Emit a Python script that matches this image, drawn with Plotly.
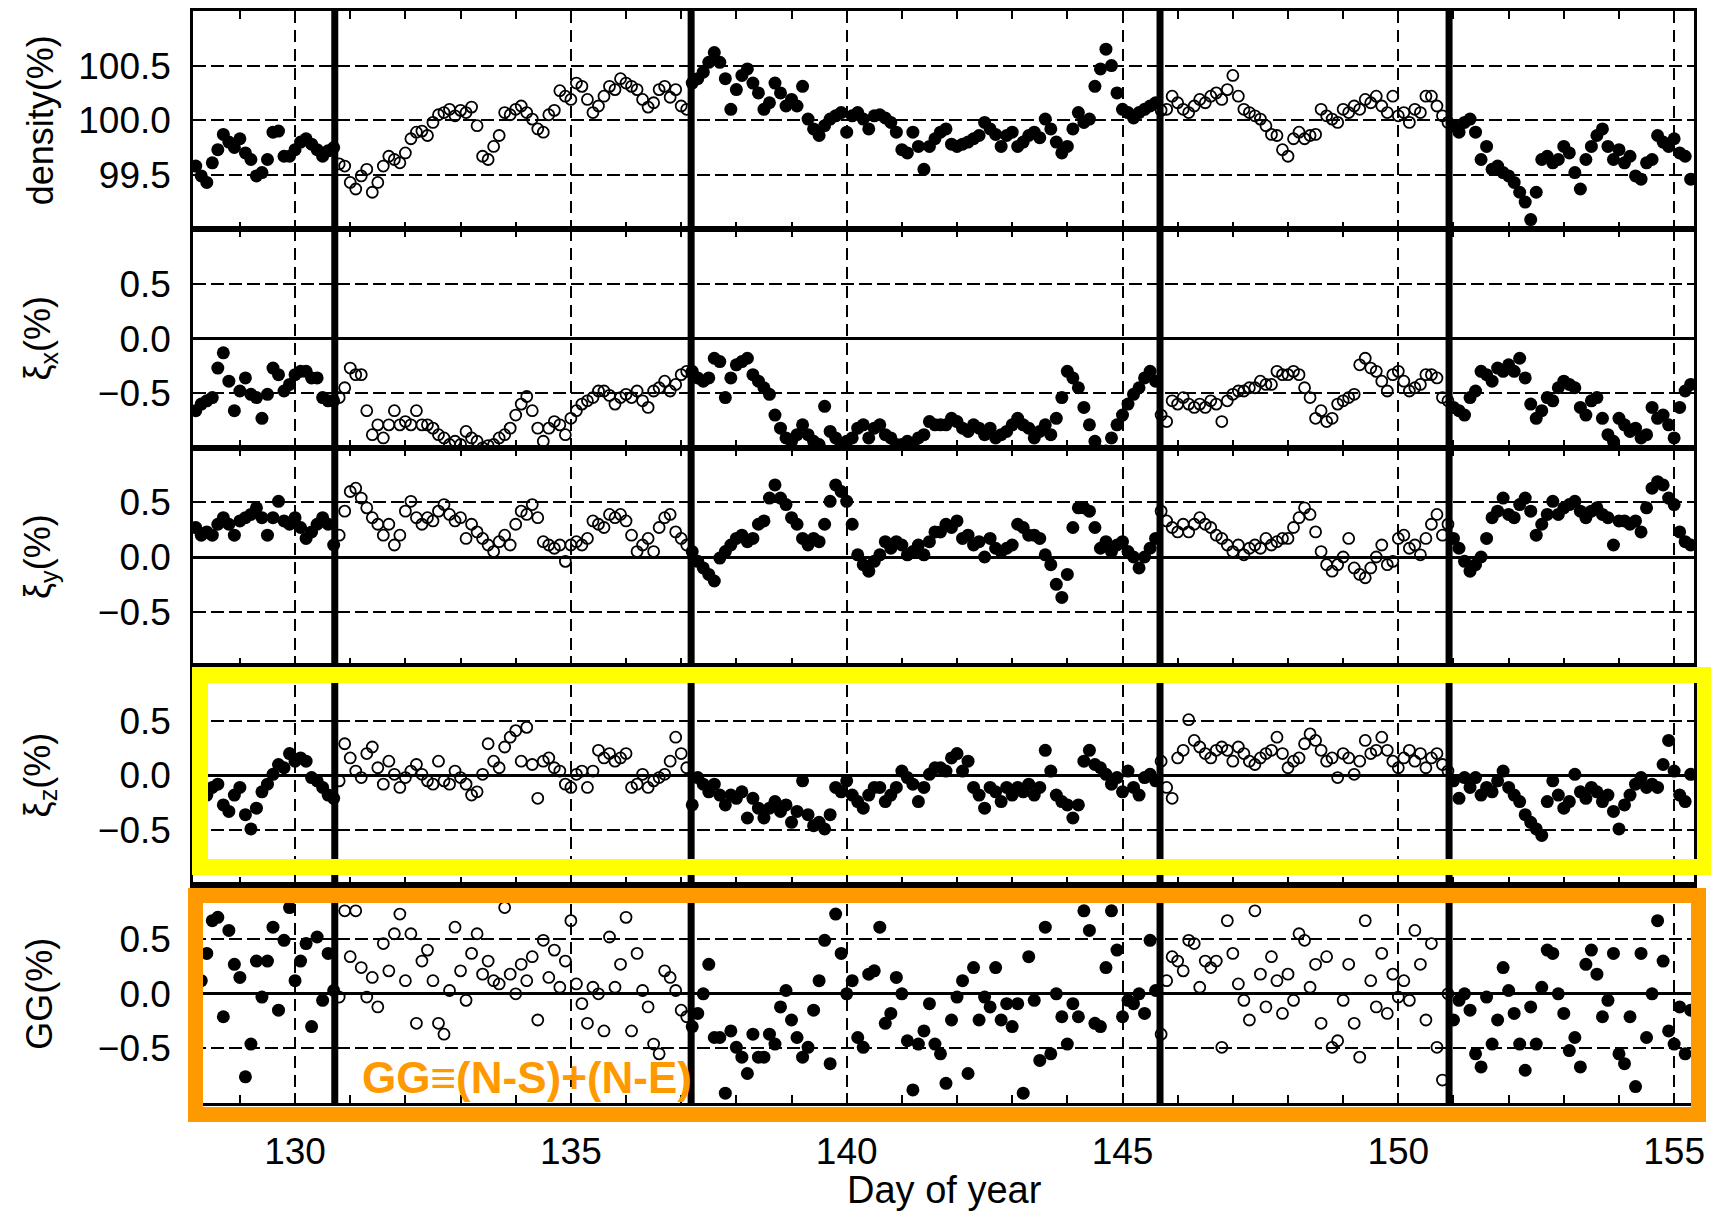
import numpy as np
import plotly.graph_objects as go

# ---------------- data ----------------
day_start = 128.2   # first sample (day of year)
day_step = 0.1      # sampling interval (day)

density = [
    99.58, 99.49, 99.43, 99.61, 99.73, 99.87, 99.80, 99.75,                        # 128.2-128.9
    99.83, 99.70, 99.64, 99.49, 99.52, 99.64, 99.89, 99.90, 99.67, 99.67,          # 129
    99.73, 99.80, 99.83, 99.78, 99.73, 99.67, 99.72, 99.75, 99.60, 99.58,          # 130
    99.43, 99.37, 99.49, 99.55, 99.34, 99.43, 99.58, 99.67, 99.64, 99.61,          # 131
    99.70, 99.83, 99.89, 99.90, 99.86, 99.98, 100.05, 100.07, 100.10, 100.04,      # 132
    100.09, 100.07, 100.12, 99.95, 99.67, 99.64, 99.76, 99.86, 100.07, 100.05,     # 133
    100.10, 100.13, 100.07, 100.01, 99.92, 99.89, 100.05, 100.09, 100.27, 100.22,  # 134
    100.19, 100.34, 100.31, 100.19, 100.07, 100.13, 100.22, 100.31, 100.28, 100.38,  # 135
    100.34, 100.31, 100.28, 100.19, 100.12, 100.16, 100.28, 100.31, 100.21, 100.28,  # 136
    100.13, 100.10, 100.34, 100.38, 100.44, 100.53, 100.62, 100.53, 100.38, 100.10,  # 137
    100.28, 100.41, 100.47, 100.34, 100.25, 100.10, 100.16, 100.34, 100.25, 100.13,  # 138
    100.19, 100.13, 100.31, 100.01, 99.92, 99.86, 99.95, 100.01, 100.04, 100.07,   # 139
    99.89, 100.04, 100.07, 100.01, 99.92, 100.04, 100.05, 100.02, 99.98, 99.89,    # 140
    99.73, 99.70, 99.89, 99.76, 99.55, 99.76, 99.83, 99.89, 99.92, 99.78,          # 141
    99.76, 99.78, 99.80, 99.83, 99.86, 99.98, 99.92, 99.87, 99.76, 99.86,          # 142
    99.89, 99.76, 99.80, 99.86, 99.89, 99.84, 100.01, 99.92, 99.80, 99.70,         # 143
    99.76, 99.92, 100.07, 99.98, 100.01, 100.31, 100.47, 100.65, 100.50, 100.25,   # 144
    100.10, 100.07, 100.02, 100.07, 100.10, 100.13, 100.16, 100.09, 100.10, 100.22,  # 145
    100.16, 100.10, 100.07, 100.13, 100.19, 100.16, 100.22, 100.25, 100.19, 100.28,  # 146
    100.41, 100.22, 100.10, 100.07, 100.04, 100.01, 99.95, 99.87, 99.86, 99.73,    # 147
    99.67, 99.83, 99.89, 99.83, 99.86, 99.87, 100.10, 100.04, 100.01, 99.98,       # 148
    100.10, 100.07, 100.13, 100.10, 100.19, 100.16, 100.22, 100.13, 100.07, 100.22,  # 149
    100.04, 100.07, 99.98, 100.10, 100.07, 100.22, 100.22, 100.13, 100.04, 99.98,  # 150
    99.95, 99.89, 99.98, 100.01, 99.89, 99.64, 99.76, 99.55, 99.58, 99.52,         # 151
    99.49, 99.43, 99.34, 99.25, 99.09, 99.34, 99.64, 99.67, 99.61, 99.64,          # 152
    99.76, 99.70, 99.52, 99.37, 99.64, 99.76, 99.86, 99.92, 99.76, 99.64,          # 153
    99.73, 99.61, 99.67, 99.49, 99.46, 99.61, 99.64, 99.86, 99.80, 99.76,          # 154
    99.83, 99.70, 99.67, 99.46,                                                    # 155.0-155.3
]

xi_x = [
    -0.66, -0.60, -0.57, -0.54, -0.27, -0.13, -0.39, -0.66,
    -0.48, -0.36, -0.51, -0.54, -0.73, -0.51, -0.27, -0.33, -0.48, -0.42,
    -0.33, -0.30, -0.30, -0.36, -0.36, -0.54, -0.57, -0.57, -0.54, -0.45,
    -0.27, -0.33, -0.33, -0.66, -0.88, -0.79, -0.91, -0.79, -0.66, -0.79,
    -0.76, -0.79, -0.66, -0.79, -0.79, -0.82, -0.88, -0.91, -0.97, -0.94,
    -0.97, -0.85, -0.91, -0.94, -1.00, -0.98, -0.97, -0.91, -0.88, -0.82,
    -0.70, -0.60, -0.53, -0.66, -0.82, -0.94, -0.82, -0.76, -0.79, -0.88,
    -0.73, -0.66, -0.60, -0.57, -0.54, -0.48, -0.48, -0.52, -0.60, -0.54,
    -0.51, -0.54, -0.48, -0.57, -0.63, -0.48, -0.45, -0.39, -0.48, -0.42,
    -0.33, -0.30, -0.30, -0.36, -0.39, -0.36, -0.18, -0.21, -0.54, -0.36,
    -0.24, -0.21, -0.18, -0.33, -0.39, -0.45, -0.51, -0.70, -0.82, -0.91,
    -0.94, -0.88, -0.79, -0.88, -0.94, -0.97, -0.62, -0.85, -0.91, -0.97,
    -0.94, -0.91, -0.82, -0.79, -0.91, -0.82, -0.79, -0.88, -0.91, -0.97,
    -0.97, -0.94, -0.97, -0.91, -0.88, -0.76, -0.79, -0.79, -0.79, -0.73,
    -0.76, -0.82, -0.85, -0.79, -0.82, -0.88, -0.82, -0.91, -0.88, -0.85,
    -0.79, -0.73, -0.79, -0.82, -0.91, -0.85, -0.79, -0.88, -0.73, -0.54,
    -0.30, -0.36, -0.45, -0.63, -0.79, -0.94, -1.03, -1.03, -0.91, -0.79,
    -0.70, -0.60, -0.51, -0.45, -0.36, -0.30, -0.39, -0.70, -0.76, -0.57,
    -0.60, -0.54, -0.60, -0.63, -0.60, -0.63, -0.57, -0.60, -0.76, -0.57,
    -0.51, -0.48, -0.48, -0.45, -0.45, -0.39, -0.42, -0.42, -0.30, -0.33,
    -0.33, -0.30, -0.33, -0.45, -0.54, -0.73, -0.66, -0.76, -0.73, -0.60,
    -0.57, -0.54, -0.51, -0.24, -0.18, -0.27, -0.30, -0.39, -0.48, -0.33,
    -0.30, -0.39, -0.48, -0.45, -0.42, -0.33, -0.33, -0.36, -0.54, -0.57,
    -0.63, -0.66, -0.70, -0.54, -0.48, -0.30, -0.33, -0.39, -0.27, -0.30,
    -0.24, -0.30, -0.18, -0.36, -0.60, -0.73, -0.66, -0.54, -0.57, -0.45,
    -0.39, -0.42, -0.45, -0.63, -0.70, -0.57, -0.54, -0.73, -0.88, -0.94,
    -0.73, -0.79, -0.85, -0.82, -0.91, -0.88, -0.63, -0.73, -0.70, -0.79,
    -0.91, -0.63, -0.48, -0.42,
]

xi_y = [
    0.27, 0.20, 0.23, 0.20, 0.30, 0.36, 0.30, 0.20,
    0.33, 0.36, 0.39, 0.45, 0.36, 0.20, 0.36, 0.51, 0.33, 0.30,
    0.36, 0.27, 0.17, 0.23, 0.30, 0.36, 0.30, 0.11, 0.20, 0.42,
    0.60, 0.63, 0.54, 0.45, 0.36, 0.30, 0.20, 0.30, 0.11, 0.20,
    0.42, 0.51, 0.36, 0.30, 0.36, 0.33, 0.42, 0.48, 0.39, 0.33,
    0.36, 0.17, 0.30, 0.23, 0.17, 0.11, 0.05, 0.14, 0.20, 0.11,
    0.30, 0.42, 0.39, 0.48, 0.36, 0.14, 0.11, 0.08, 0.11, -0.04,
    0.11, 0.14, 0.11, 0.17, 0.33, 0.30, 0.27, 0.39, 0.36, 0.39,
    0.33, 0.20, 0.05, 0.11, 0.17, 0.05, 0.27, 0.36, 0.39, 0.23,
    0.17, 0.11, 0.05, -0.04, -0.10, -0.16, -0.22, -0.01, 0.05, 0.11,
    0.17, 0.20, 0.14, 0.17, 0.30, 0.33, 0.54, 0.66, 0.54, 0.48,
    0.36, 0.30, 0.17, 0.11, 0.17, 0.14, 0.30, 0.51, 0.66, 0.60,
    0.51, 0.30, 0.02, -0.07, -0.13, -0.04, 0.02, 0.14, 0.08, 0.14,
    0.11, 0.02, 0.05, 0.11, 0.02, 0.14, 0.23, 0.23, 0.30, 0.27,
    0.33, 0.17, 0.20, 0.11, 0.14, 0.00, 0.17, 0.08, 0.05, 0.08,
    0.11, 0.30, 0.27, 0.20, 0.20, 0.17, 0.02, -0.07, -0.25, -0.37,
    -0.16, 0.27, 0.45, 0.45, 0.42, 0.27, 0.08, 0.14, 0.05, 0.11,
    0.14, 0.05, 0.00, -0.10, 0.00, 0.08, 0.17, 0.42, 0.33, 0.27,
    0.23, 0.30, 0.23, 0.30, 0.36, 0.30, 0.27, 0.20, 0.17, 0.11,
    0.05, 0.11, 0.02, 0.08, 0.11, 0.08, 0.17, 0.11, 0.14, 0.17,
    0.17, 0.27, 0.36, 0.45, 0.39, 0.23, 0.05, -0.07, -0.13, -0.07,
    0.00, 0.17, -0.10, -0.16, -0.19, -0.10, 0.00, 0.11, -0.07, -0.04,
    0.17, 0.20, 0.08, 0.11, 0.02, 0.17, 0.30, 0.39, 0.20, 0.30,
    0.17, 0.08, -0.04, -0.13, -0.07, 0.00, 0.17, 0.36, 0.42, 0.54,
    0.39, 0.36, 0.48, 0.54, 0.42, 0.20, 0.30, 0.39, 0.51, 0.39,
    0.45, 0.48, 0.51, 0.42, 0.36, 0.42, 0.45, 0.39, 0.36, 0.11,
    0.33, 0.33, 0.30, 0.33, 0.23, 0.45, 0.63, 0.69, 0.66, 0.54,
    0.48, 0.23, 0.14, 0.11,
]

xi_z = [
    -0.02, -0.05, -0.18, -0.11, -0.08, -0.27, -0.33, -0.18,
    -0.11, -0.36, -0.49, -0.30, -0.15, -0.08, 0.01, 0.10, 0.07, 0.20,
    0.13, 0.16, 0.13, -0.02, -0.05, -0.11, -0.18, -0.21, -0.05, 0.29,
    0.16, 0.04, -0.02, 0.20, 0.26, 0.07, -0.08, 0.13, 0.01, -0.11,
    -0.02, 0.04, 0.10, 0.01, -0.05, -0.08, 0.13, -0.05, -0.08, 0.04,
    -0.02, -0.08, -0.18, -0.15, 0.01, 0.29, 0.13, 0.07, 0.26, 0.35,
    0.41, 0.13, 0.44, 0.10, -0.21, 0.13, 0.16, 0.07, 0.04, -0.08,
    -0.11, 0.01, 0.04, -0.11, 0.04, 0.23, 0.16, 0.20, 0.13, 0.16,
    0.20, -0.11, -0.08, 0.01, -0.11, -0.05, -0.02, 0.01, 0.13, 0.35,
    0.20, 0.07, -0.27, -0.02, -0.08, -0.15, -0.08, -0.18, -0.27, -0.18,
    -0.21, -0.15, -0.39, -0.21, -0.30, -0.39, -0.30, -0.24, -0.33, -0.27,
    -0.43, -0.33, -0.05, -0.36, -0.46, -0.43, -0.49, -0.36, -0.11, -0.15,
    -0.05, -0.18, -0.24, -0.30, -0.18, -0.11, -0.11, -0.24, -0.18, -0.11,
    0.04, -0.02, -0.08, -0.24, -0.11, 0.01, 0.07, 0.07, 0.04, 0.16,
    0.20, 0.04, 0.13, -0.11, -0.18, -0.30, -0.11, -0.15, -0.24, -0.11,
    -0.18, -0.11, -0.15, -0.08, -0.18, -0.11, 0.23, 0.04, -0.18, -0.24,
    -0.27, -0.39, -0.27, 0.13, 0.23, 0.10, 0.07, 0.01, -0.08, -0.02,
    -0.15, 0.04, -0.11, -0.18, -0.02, 0.01, -0.05, 0.13, -0.11, -0.21,
    0.16, 0.23, 0.51, 0.32, 0.26, 0.20, 0.16, 0.23, 0.26, 0.23,
    0.13, 0.26, 0.20, 0.13, 0.10, 0.16, 0.20, 0.23, 0.35, 0.20,
    0.07, 0.13, 0.16, 0.29, 0.38, 0.32, 0.23, 0.13, 0.16, -0.02,
    0.20, 0.16, 0.01, 0.13, 0.32, 0.20, 0.23, 0.35, 0.23, 0.13,
    0.07, 0.16, 0.23, 0.13, 0.20, 0.07, 0.16, 0.20, 0.10, 0.04,
    -0.05, -0.21, -0.02, -0.11, -0.02, -0.18, -0.11, -0.15, -0.05, 0.04,
    -0.11, -0.18, -0.24, -0.36, -0.43, -0.49, -0.55, -0.24, -0.05, -0.18,
    -0.30, -0.24, 0.01, -0.15, -0.21, -0.11, -0.15, -0.24, -0.18, -0.33,
    -0.49, -0.27, -0.18, -0.08, -0.02, -0.11, -0.08, -0.11, 0.10, 0.32,
    0.04, -0.18, -0.24, 0.01,
]

gg = [
    -0.45, 0.12, 0.37, 0.67, 0.70, -0.21, 0.58, 0.27,
    0.15, -0.76, -0.46, 0.30, -0.03, 0.30, 0.61, -0.15, 0.49, 0.79,
    0.12, 0.30, 0.46, -0.30, 0.52, -0.06, 0.37, 0.03, -0.03, 0.76,
    0.34, 0.76, 0.24, -0.03, 0.15, -0.12, 0.46, 0.21, 0.55, 0.73,
    0.12, 0.55, -0.27, 0.30, 0.40, 0.12, -0.27, -0.37, 0.03, 0.61,
    0.21, -0.06, 0.37, 0.55, 0.18, 0.30, 0.12, 0.09, 0.79, 0.18,
    0.00, 0.27, 0.12, 0.34, -0.24, 0.49, 0.15, 0.40, 0.06, 0.30,
    0.67, 0.09, -0.09, -0.27, 0.06, 0.00, -0.34, 0.52, 0.06, 0.27,
    0.70, -0.34, 0.37, 0.03, -0.12, -0.46, -0.55, 0.21, 0.15, 0.03,
    -0.15, -0.21, -0.30, -0.18, 0.00, 0.27, -0.40, -0.40, -0.91, -0.34,
    -0.49, -0.58, -0.73, -0.37, -0.58, -0.58, -0.37, -0.46, -0.12, 0.03,
    -0.24, -0.40, -0.58, -0.49, -0.15, 0.12, 0.49, -0.64, 0.73, 0.37,
    0.00, 0.12, -0.40, -0.49, 0.18, 0.21, 0.61, -0.27, -0.18, 0.15,
    0.00, -0.43, -0.88, -0.46, -0.34, -0.09, -0.46, -0.55, -0.82, -0.24,
    -0.03, 0.12, -0.73, 0.24, -0.24, -0.03, -0.12, 0.24, -0.24, -0.09,
    -0.30, -0.09, -0.91, 0.34, -0.06, -0.61, 0.61, -0.55, 0.00, -0.21,
    -0.46, -0.09, -0.21, 0.76, 0.58, -0.27, -0.30, 0.24, 0.76, 0.40,
    -0.21, -0.06, -0.09, 0.00, -0.18, 0.49, 0.03, -0.37, 0.12, 0.34,
    0.30, 0.21, 0.49, 0.46, 0.06, 0.30, 0.24, 0.30, -0.49, 0.67,
    0.37, 0.09, -0.06, -0.24, 0.76, 0.18, -0.12, 0.34, 0.12, -0.18,
    0.18, -0.06, 0.55, 0.49, 0.06, 0.27, -0.27, 0.34, -0.49, -0.43,
    -0.06, 0.27, -0.27, -0.58, 0.67, 0.12, -0.12, 0.37, -0.18, 0.18,
    -0.03, 0.12, -0.06, 0.58, 0.27, -0.24, 0.46, -0.49, -0.79, 0.00,
    -0.24, -0.06, 0.00, -0.15, -0.55, -0.67, -0.03, -0.46, -0.24, 0.24,
    0.03, -0.18, -0.46, -0.70, -0.12, -0.46, 0.06, 0.40, 0.37, 0.00,
    -0.18, -0.52, -0.40, -0.67, 0.27, 0.40, 0.18, -0.21, -0.06, 0.37,
    -0.55, -0.64, -0.21, -0.85, 0.37, -0.40, 0.00, 0.67, 0.30, -0.34,
    -0.46, -0.12, -0.55, -0.15,
]

# period boundaries (thick vertical lines) and fill style of each period
boundaries = [130.72, 137.18, 145.68, 150.92]
period_filled = [True, False, True, False, True]

panel_titles = ["density(%)", "ξ<sub>x</sub>(%)", "ξ<sub>y</sub>(%)", "ξ<sub>z</sub>(%)", "GG(%)"]
panel_values = [density, xi_x, xi_y, xi_z, gg]
panel_ranges = [[99.0, 101.0], [-1, 1], [-1, 1], [-1, 1], [-1, 1]]
panel_tickvals = [[99.5, 100.0, 100.5], [-0.5, 0.0, 0.5], [-0.5, 0.0, 0.5], [-0.5, 0.0, 0.5], [-0.5, 0.0, 0.5]]
panel_ticktext = [["99.5", "100.0", "100.5"]] + [["\u22120.5", "0.0", "0.5"]] * 4
x_range = [128.15, 155.36]
x_tickvals = [130, 135, 140, 145, 150, 155]
annotation_text = "GG\u2261(N-S)+(N-E)"

# ---------------- figure ----------------
W, H = 1711, 1213
ML, MR, MT, MB = 193, 17, 11, 110
PW, PH = W - ML - MR, H - MT - MB


def px_x(p):
    return (p - ML) / PW


def px_y(p):
    return (H - MB - p) / PH


FONT = "Liberation Sans, Arial, sans-serif"
fig = go.Figure()
npan = len(panel_values)

for i, vals in enumerate(panel_values):
    vals = np.asarray(vals, dtype=float)
    days = np.round(day_start + day_step * np.arange(len(vals)), 3)
    seg = np.searchsorted(boundaries, days)
    filled = np.array(period_filled)[seg]
    xa = "x" if i == 0 else f"x{i+1}"
    ya = "y" if i == 0 else f"y{i+1}"
    fig.add_trace(go.Scatter(
        x=days[filled], y=vals[filled], mode="markers", xaxis=xa, yaxis=ya,
        marker=dict(symbol="circle", size=13, color="black"),
        showlegend=False))
    fig.add_trace(go.Scatter(
        x=days[~filled], y=vals[~filled], mode="markers", xaxis=xa, yaxis=ya,
        marker=dict(symbol="circle-open", size=11, color="black", line=dict(width=1.8, color="black")),
        showlegend=False))

    top = 1 - i / npan
    bot = 1 - (i + 1) / npan
    xkey = "xaxis" if i == 0 else f"xaxis{i+1}"
    ykey = "yaxis" if i == 0 else f"yaxis{i+1}"
    fig.layout[xkey] = dict(
        domain=[0, 1], anchor=ya, range=x_range, tickvals=x_tickvals,
        showticklabels=(i == npan - 1),
        ticktext=[str(v) for v in x_tickvals],
        tickfont=dict(family=FONT, size=37, color="black"),
        ticks="inside", ticklen=10, tickwidth=2, tickcolor="black",
        minor=dict(dtick=1, tick0=0, ticks="inside", ticklen=8, tickwidth=2, tickcolor="black", showgrid=False),
        showgrid=True, gridcolor="black", gridwidth=2, griddash="12px,7px",
        showline=True, linecolor="black", linewidth=2.5, mirror="ticks",
        zeroline=False, automargin=False, ticklabelstandoff=14,
        matches=None if i == 0 else "x",
    )
    fig.layout[ykey] = dict(
        domain=[bot, top], anchor=xa, range=panel_ranges[i],
        tickvals=panel_tickvals[i], ticktext=panel_ticktext[i],
        tickfont=dict(family=FONT, size=37, color="black"),
        ticks="", showgrid=True, gridcolor="black", gridwidth=2, griddash="13px,5px",
        zeroline=(i > 0), zerolinecolor="black", zerolinewidth=2.5,
        showline=True, linecolor="black", linewidth=2.5, mirror=True,
        automargin=False, ticklabelstandoff=12,
    )
    fig.add_annotation(
        text=panel_titles[i], xref="paper", yref="paper",
        x=px_x(40), y=(top + bot) / 2, xanchor="center", yanchor="middle",
        textangle=-90, showarrow=False,
        font=dict(family=FONT, size=36, color="black"))

shapes = []
for b in boundaries:
    shapes.append(dict(type="line", xref="x", yref="paper", x0=b, x1=b, y0=0, y1=1,
                       line=dict(color="black", width=7)))
# highlight boxes
shapes.append(dict(type="rect", xref="paper", yref="paper",
                   x0=px_x(200), x1=px_x(1705), y0=px_y(867), y1=px_y(675),
                   line=dict(color="#FFFF00", width=16), fillcolor="rgba(0,0,0,0)"))
shapes.append(dict(type="rect", xref="paper", yref="paper",
                   x0=px_x(195.5), x1=px_x(1698.5), y0=px_y(1114.5), y1=px_y(895.5),
                   line=dict(color="#FF9900", width=15), fillcolor="rgba(0,0,0,0)"))
fig.update_layout(shapes=shapes)

fig.add_annotation(text=f"<b>{annotation_text}</b>", xref="paper", yref="paper",
                   x=px_x(527), y=px_y(1077), xanchor="center", yanchor="middle",
                   showarrow=False, font=dict(family=FONT, size=44, color="#FF9900"))
fig.add_annotation(text="Day of year", xref="paper", yref="paper",
                   x=px_x(944), y=px_y(1190), xanchor="center", yanchor="middle",
                   showarrow=False, font=dict(family=FONT, size=38, color="black"))

fig.update_layout(
    width=W, height=H, autosize=False,
    margin=dict(l=ML, r=MR, t=MT, b=MB),
    paper_bgcolor="white", plot_bgcolor="white",
    showlegend=False,
)
# remove the browser's default 8px body margin so the figure sits at the page origin
fig.write_html("out.html", config={"displayModeBar": False},
               post_script="document.body.style.margin='0';document.body.style.overflow='hidden';")
